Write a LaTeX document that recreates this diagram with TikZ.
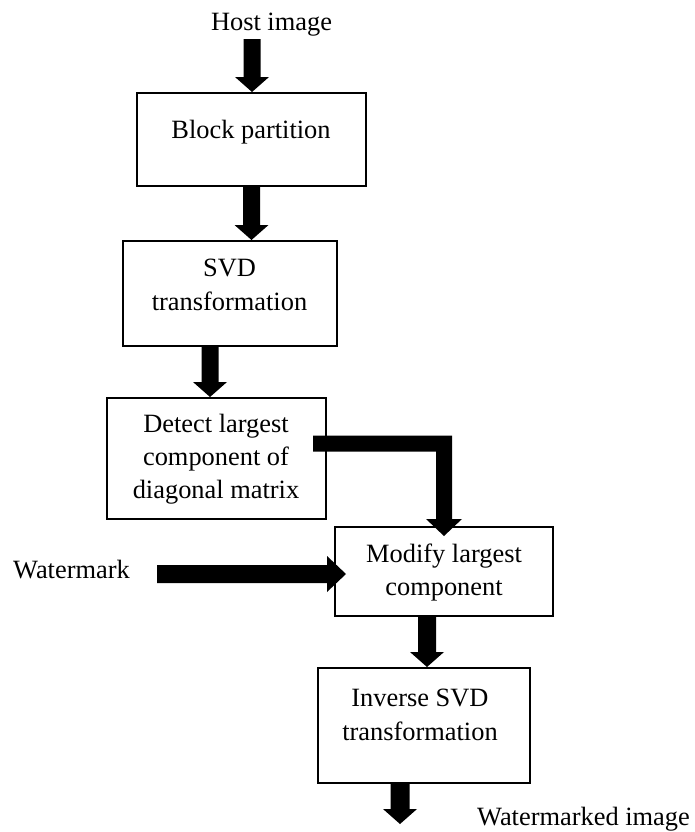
\documentclass[tikz,border=0pt]{standalone}
\usepackage{fontspec}
\setmainfont{Liberation Serif}
\usetikzlibrary{calc}
\tikzset{
  box/.style={draw=black, line width=2bp, rectangle, inner sep=0pt},
  txt/.style={font=\fontsize{26.4bp}{33bp}\selectfont, inner sep=0pt, anchor=base},
  vblk/.style n args={3}{to path={let \p1=(\tikztostart), \p2=(\tikztotarget) in
    (\x1-#1,\y1) -- (\x1-#1,\y2+#3) -- (\x1-#2,\y2+#3) -- (\x1,\y2) --
    (\x1+#2,\y2+#3) -- (\x1+#1,\y2+#3) -- (\x1+#1,\y1) -- cycle}},
  hblk/.style n args={3}{to path={let \p1=(\tikztostart), \p2=(\tikztotarget) in
    (\x1,\y1+#1) -- (\x2-#3,\y1+#1) -- (\x2-#3,\y1+#2) -- (\x2,\y1) --
    (\x2-#3,\y1-#2) -- (\x2-#3,\y1-#1) -- (\x1,\y1-#1) -- cycle}},
  eblk/.style n args={3}{to path={let \p1=(\tikztostart), \p2=(\tikztotarget) in
    (\x1,\y1+#1) -- (\x2+#1,\y1+#1) -- (\x2+#1,\y2+#3) -- (\x2+#2,\y2+#3) -- (\x2,\y2) --
    (\x2-#2,\y2+#3) -- (\x2-#1,\y2+#3) -- (\x2-#1,\y1-#1) -- (\x1,\y1-#1) -- cycle}},
}
\begin{document}
\begin{tikzpicture}[x=1bp,y=-1bp]
\useasboundingbox (0,0) rectangle (695,832);

% boxes
\node[box, minimum width=229bp, minimum height=93bp]  (b1) at (251.5,139.5) {};
\node[box, minimum width=214bp, minimum height=105bp] (b2) at (230,293.5) {};
\node[box, minimum width=219bp, minimum height=121bp] (b3) at (216.5,458.5) {};
\node[box, minimum width=218bp, minimum height=89bp]  (b4) at (444,571.5) {};
\node[box, minimum width=212bp, minimum height=115bp] (b5) at (424,725.5) {};

% texts
\node[txt] (host) at (271.5,30.5) {Host image};
\node[txt] (t1) at (251,138) {Block partition};
\node[txt] (t2a) at (229.5,276) {SVD};
\node[txt] (t2b) at (229.5,310) {transformation};
\node[txt] (t3a) at (216,432) {Detect largest};
\node[txt] (t3b) at (216,465) {component of};
\node[txt] (t3c) at (216,498) {diagonal matrix};
\node[txt] (t4a) at (444,562) {Modify largest};
\node[txt] (t4b) at (444,595) {component};
\node[txt] (t5a) at (420,706) {Inverse SVD};
\node[txt] (t5b) at (420,740) {transformation};
\node[txt, anchor=base west] (wm) at (13,578) {Watermark};
\node[txt, anchor=base west] (wmi) at (477,825) {Watermarked image};

% free ends
\coordinate (hs) at (252,39);
\coordinate (ws) at (157,574);
\coordinate (out) at (400,824);

% block arrows
\fill (hs) to[vblk={8.5bp}{17bp}{15bp}] (b1.north);
\fill (b1.south) to[vblk={8.5bp}{17bp}{15bp}] (b2.north);
\fill ($(b2.south)+(-20,0)$) to[vblk={8.5bp}{17bp}{15bp}] (b3.north);
\fill ($(b3.east)+(-14,-15)$) to[eblk={8bp}{18bp}{17bp}] ($(b4.north)+(0,10)$);
\fill (ws) to[hblk={9bp}{18bp}{19bp}] ($(b4.west)+(12,0)$);
\fill ($(b4.south)+(-17,0)$) to[vblk={9bp}{17bp}{15bp}] (b5.north);
\fill ($(b5.south)+(-24,0)$) to[vblk={9.5bp}{17bp}{15bp}] (out);
\end{tikzpicture}
\end{document}
